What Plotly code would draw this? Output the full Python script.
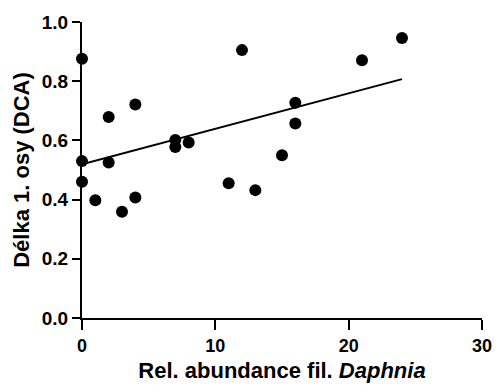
import plotly.graph_objects as go

# Relative abundance of filamentous Daphnia vs. length of the 1st DCA axis
abundance = [0, 0, 0, 1, 2, 2, 3, 4, 4, 7, 7, 8, 11, 12, 13, 15, 16, 16, 21, 24]
dca_length = [0.876, 0.530, 0.460, 0.398, 0.679, 0.525, 0.359, 0.721, 0.407,
              0.601, 0.578, 0.593, 0.455, 0.905, 0.432, 0.550, 0.727, 0.657,
              0.871, 0.946]

# Linear regression line (intercept, slope) over the observed range
fit_intercept = 0.519
fit_slope = 0.012
fit_x = [min(abundance), max(abundance)]
fit_y = [fit_intercept + fit_slope * v for v in fit_x]

x_ticks = [0, 10, 20, 30]
y_ticks = [0.0, 0.2, 0.4, 0.6, 0.8, 1.0]

font_family = "Liberation Sans, Arial, sans-serif"

fig = go.Figure()
fig.add_trace(go.Scatter(
    x=fit_x, y=fit_y, mode="lines",
    line=dict(color="black", width=2),
    hoverinfo="skip", cliponaxis=False,
))
fig.add_trace(go.Scatter(
    x=abundance, y=dca_length, mode="markers",
    marker=dict(color="black", size=12, line=dict(width=0)),
    cliponaxis=False,
))

axis_common = dict(
    showgrid=False, zeroline=False, showline=True,
    linecolor="black", linewidth=2,
    ticks="outside", tickcolor="black", tickwidth=2,
)

fig.update_xaxes(
    range=[0, 30], tickvals=x_ticks,
    ticktext=[f"<b>{v}</b>" for v in x_ticks],
    ticklen=10,
    tickfont=dict(family=font_family, size=18, color="black"),
    title=dict(text="<b>Rel. abundance fil. <i>Daphnia</i></b>",
               font=dict(family=font_family, size=22, color="black"),
               standoff=8),
    **axis_common,
)
fig.update_yaxes(
    range=[0, 1.0], tickvals=y_ticks,
    ticktext=[f"<b>{v:.1f}</b>" for v in y_ticks],
    ticklen=8,
    tickfont=dict(family=font_family, size=19, color="black"),
    title=dict(text="<b>Délka 1. osy (DCA)</b>",
               font=dict(family=font_family, size=22, color="black"),
               standoff=6),
    **axis_common,
)

fig.update_layout(
    width=504, height=392,
    margin=dict(l=82, r=16, t=22, b=74),
    paper_bgcolor="white", plot_bgcolor="white",
    showlegend=False,
    font=dict(family=font_family, color="black"),
)

fig.write_html("out.html")
